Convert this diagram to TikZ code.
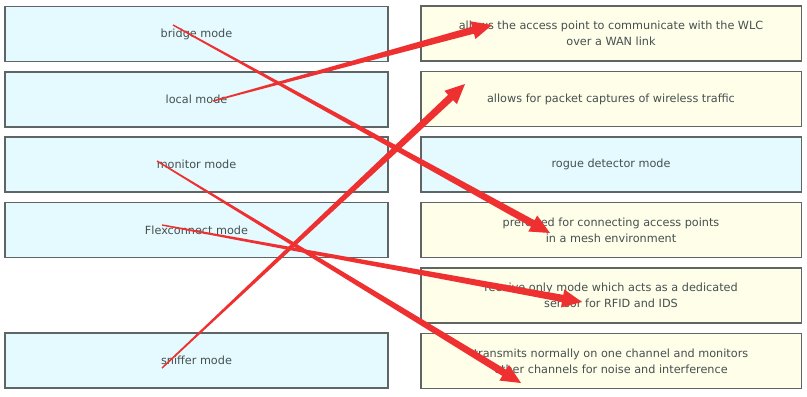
\documentclass[tikz,border=0pt]{standalone}
\usepackage{fontspec}
\setmainfont{DejaVu Sans}
\usetikzlibrary{calc}

\definecolor{modefill}{RGB}{228,250,254}
\definecolor{descfill}{RGB}{254,254,233}
\definecolor{boxline}{RGB}{95,100,100}
\definecolor{boxtext}{RGB}{70,80,80}
\definecolor{arrowred}{RGB}{238,48,48}

% red arrow that widens from its start towards the head
\newcommand{\wedgearrow}[2]{%
	\coordinate (#2-neck) at ($(#2)!14pt!(#1)$);
	\fill[arrowred] ($(#1)!0.5pt!90:(#2)$)
		-- ($(#2-neck)!2.6pt!-90:(#1)$) -- ($(#2-neck)!6.5pt!-90:(#1)$)
		-- (#2)
		-- ($(#2-neck)!6.5pt!90:(#1)$) -- ($(#2-neck)!2.6pt!90:(#1)$)
		-- ($(#1)!0.5pt!-90:(#2)$) -- cycle;
}

\begin{document}
\begin{tikzpicture}[x=0.025cm,y=-0.025cm,
	box/.style={draw=boxline,line width=0.8pt,inner sep=0pt,minimum height=1.375cm,
		align=center,text=boxtext,font=\fontsize{8}{11.5}\selectfont},
	mode/.style={box,fill=modefill,minimum width=9.575cm},
	desc/.style={box,fill=descfill,minimum width=9.5cm}]
	\useasboundingbox (0,0) rectangle (807,396);
	% modes on the left
	\node[mode] (bridge) at (196.5,34) {bridge mode};
	\node[mode] (local) at (196.5,99.5) {local mode};
	\node[mode] (monitor) at (196.5,164.5) {monitor mode};
	\node[mode] (flex) at (196.5,230) {Flexconnect mode};
	\node[mode] (sniffer) at (196.5,360.5) {sniffer mode};
	% descriptions on the right
	\node[desc] (wan) at (611,33.5) {allows the access point to communicate with the WLC\\over a WAN link};
	\node[desc] (capture) at (611,99) {allows for packet captures of wireless traffic};
	\node[mode,minimum width=9.5cm] (rogue) at (611,164.5) {rogue detector mode};
	\node[desc] (mesh) at (611,230) {preferred for connecting access points\\in a mesh environment};
	\node[desc] (sensor) at (611,295.5) {receive only mode which acts as a dedicated\\sensor for RFID and IDS};
	\node[desc] (noise) at (611,361) {transmits normally on one channel and monitors\\other channels for noise and interference};
	% arrow ends
	\coordinate (bridge-s) at ($(bridge)+(-23.5,-9)$);
	\coordinate (local-s) at ($(local)+(16.5,1.5)$);
	\coordinate (monitor-s) at ($(monitor)+(-39.5,-3.5)$);
	\coordinate (flex-s) at ($(flex)+(-34.5,-5)$);
	\coordinate (sniffer-s) at ($(sniffer)+(-34.5,7.5)$);
	\coordinate (mesh-t) at ($(mesh)+(-61,3)$);
	\coordinate (wan-t) at ($(wan)+(-119,-8.5)$);
	\coordinate (noise-t) at ($(noise)+(-90,22)$);
	\coordinate (sensor-t) at ($(sensor)+(-29,6.5)$);
	\coordinate (capture-t) at ($(capture)+(-146,-15)$);
	\wedgearrow{bridge-s}{mesh-t}
	\wedgearrow{local-s}{wan-t}
	\wedgearrow{monitor-s}{noise-t}
	\wedgearrow{flex-s}{sensor-t}
	\wedgearrow{sniffer-s}{capture-t}
\end{tikzpicture}
\end{document}
